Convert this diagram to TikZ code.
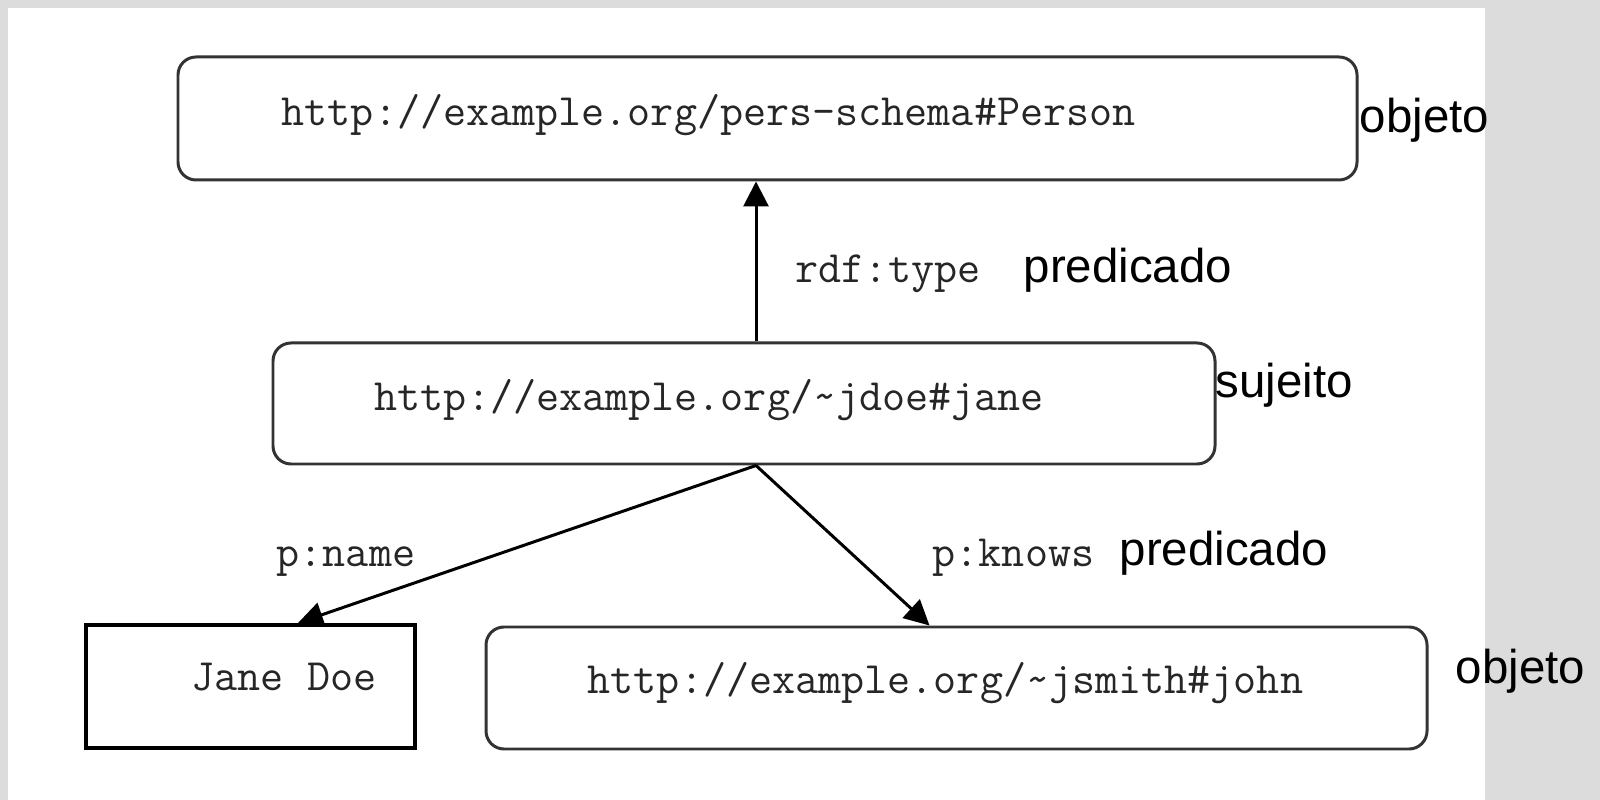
\documentclass[tikz,border=0pt]{standalone}
\usepackage{fontspec}
\setmainfont{Liberation Sans}
\usetikzlibrary{arrows.meta}

\definecolor{pagegray}{HTML}{DCDCDC}
\definecolor{boxline}{HTML}{333333}
\definecolor{uritext}{HTML}{262626}

\tikzset{
  resbox/.style={draw=boxline, line width=0.85pt, rounded corners=0.18cm, inner sep=0pt},
  litbox/.style={draw=black, line width=1.15pt, inner sep=0pt},
  uri/.style={inner sep=0pt, anchor=base west, text=uritext, font=\ttfamily\fontsize{12.75}{15}\selectfont},
  role/.style={inner sep=0pt, anchor=base west, font=\fontsize{13.5}{16}\selectfont},
  arc/.style={line width=0.85pt, -{Triangle[length=0.25cm,width=0.25cm]}}
}

\begin{document}
\begin{tikzpicture}
  	% page
  	\fill[pagegray] (0, 0) rectangle (16, 8);
  	\fill[white] (0.08, 0) rectangle (14.85, 7.92);
  	\useasboundingbox (0, 0) rectangle (16, 8);

  	% triple boxes
  	\node[resbox, minimum width=11.79cm, minimum height=1.23cm] (person) at (7.675, 6.815) {};
  	\node[resbox, minimum width=9.42cm, minimum height=1.21cm] (jane) at (7.44, 3.965) {};
  	\node[litbox, minimum width=3.29cm, minimum height=1.23cm] (name) at (2.505, 1.135) {};
  	\node[resbox, minimum width=9.41cm, minimum height=1.22cm] (john) at (9.565, 1.12) {};

  	\node[uri] (persontxt) at (2.81, 6.74) {http://example.org/pers-schema\#Person};
  	\node[uri] (janetxt) at (3.74, 3.89) {http://example.org/\char`\~jdoe\#jane};
  	\node[uri] (nametxt) at (1.91, 1.09) {Jane Doe};
  	\node[uri] (johntxt) at (5.87, 1.06) {http://example.org/\char`\~jsmith\#john};

  	% predicates
  	\draw[arc] ([xshift=1.2mm]jane.north) -- ([xshift=1.2mm]jane.north |- person.south);
  	\draw[arc] ([xshift=1.2mm]jane.south) -- ([xshift=4.75mm]name.north);
  	\draw[arc] ([xshift=1.2mm]jane.south) -- ([xshift=-2.7mm]john.north);

  	\node[uri] (typelbl) at (7.95, 5.17) {rdf:type};
  	\node[uri] (namelbl) at (2.76, 2.33) {p:name};
  	\node[uri] (knowslbl) at (9.32, 2.33) {p:knows};

  	% roles
  	\node[role] (obj1) at (13.59, 6.67) {objeto};
  	\node[role] (pred1) at (10.23, 5.17) {predicado};
  	\node[role] (subj) at (12.15, 4.02) {sujeito};
  	\node[role] (pred2) at (11.19, 2.34) {predicado};
  	\node[role] (obj2) at (14.55, 1.16) {objeto};
\end{tikzpicture}
\end{document}
